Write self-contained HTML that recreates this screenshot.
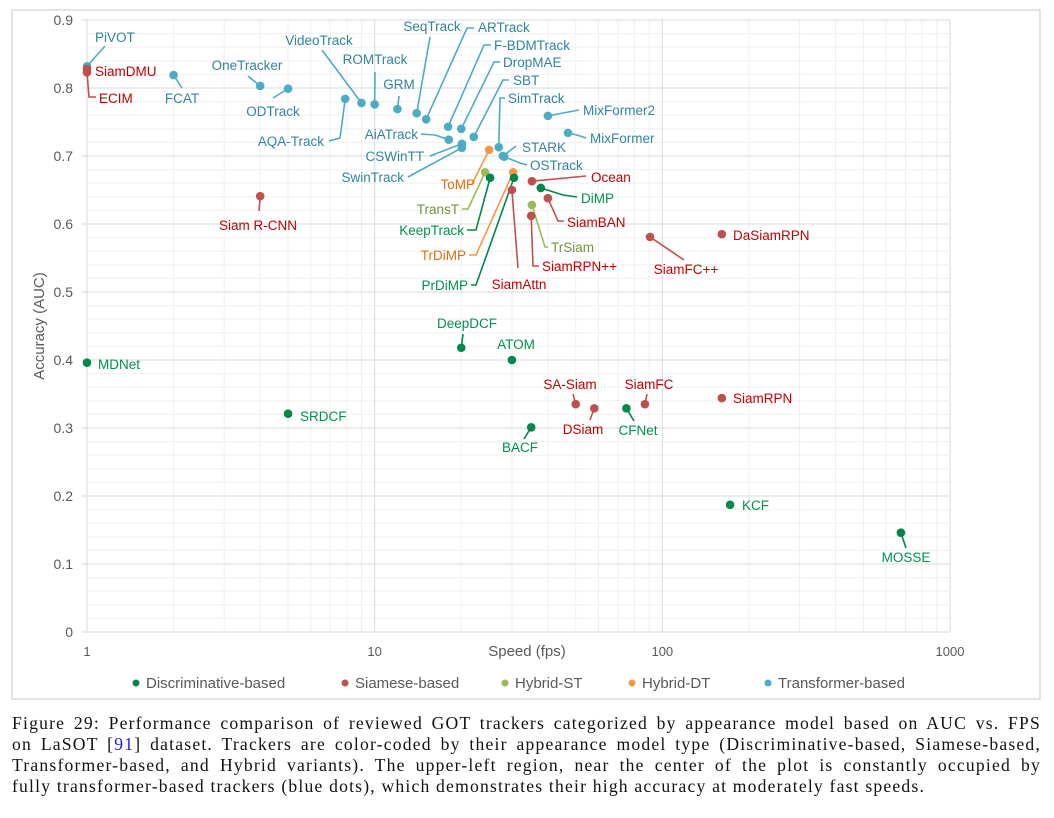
<!DOCTYPE html>
<html><head><meta charset="utf-8"><style>
body{margin:0;background:#fff;width:1054px;height:818px;overflow:hidden;font-family:"Liberation Sans",sans-serif}
#cap{position:absolute;left:12px;top:713px;width:1029px;font-family:"Liberation Serif",serif;font-size:17.6px;line-height:21px;color:#111;letter-spacing:1.2px}
#cap div{text-align:justify;text-align-last:justify;white-space:nowrap}
#cap div.last{text-align-last:left}
#cap a{color:#1a1aff;text-decoration:none}
</style></head><body>
<svg id="chart" width="1054" height="705" style="position:absolute;left:0;top:0" font-family="Liberation Sans, sans-serif">
<rect x="12" y="10" width="1028" height="689" fill="#fff" stroke="#d0d0d0" stroke-width="1.2"/>
<g id="grid"></g><g id="axes"></g><g id="leaders"></g><g id="pts"></g><g id="labels"></g><g id="legend"></g>
</svg>
<div id="cap">
<div>Figure 29: Performance comparison of reviewed GOT trackers categorized by appearance model based on AUC vs. FPS</div>
<div>on LaSOT [<a>91</a>] dataset. Trackers are color-coded by their appearance model type (Discriminative-based, Siamese-based,</div>
<div>Transformer-based, and Hybrid variants). The upper-left region, near the center of the plot is constantly occupied by</div>
<div class="last">fully transformer-based trackers (blue dots), which demonstrates their high accuracy at moderately fast speeds.</div>
</div>
<script>
const names=["PiVOT","SiamDMU","ECIM","FCAT","OneTracker","ODTrack","AQA-Track","VideoTrack","ROMTrack","GRM","SeqTrack","ARTrack","F-BDMTrack","DropMAE","AiATrack","SBT","CSWinTT","SwinTrack","SimTrack","STARK","OSTrack","MixFormer2","MixFormer","ToMP","TrDiMP","TransT","TrSiam","KeepTrack","PrDiMP","DiMP","Ocean","SiamAttn","SiamBAN","SiamRPN++","SiamFC++","DaSiamRPN","Siam R-CNN","MDNet","SRDCF","DeepDCF","ATOM","BACF","SA-Siam","DSiam","CFNet","SiamFC","SiamRPN","KCF","MOSSE"];
const fps=[1,1,1,2,4,5,7.9,9,10,12,14,15.1,18,20,18.1,22.1,20.1,20.1,27,27.9,28.2,40,47,25,30.3,24.2,35.2,25.2,30.5,37.8,35.2,30,40,35,90.6,161,4,1,5,20,30,35,50,58,75,87,161,172,675];
const auc=[0.832,0.828,0.823,0.819,0.803,0.799,0.784,0.778,0.776,0.769,0.763,0.754,0.743,0.740,0.724,0.728,0.718,0.712,0.713,0.700,0.699,0.759,0.734,0.709,0.676,0.676,0.628,0.668,0.668,0.653,0.663,0.650,0.638,0.612,0.581,0.585,0.641,0.396,0.321,0.418,0.400,0.301,0.335,0.329,0.329,0.335,0.344,0.187,0.146];
const types=["T","S","S","T","T","T","T","T","T","T","T","T","T","T","T","T","T","T","T","T","T","T","T","DT","DT","ST","ST","D","D","D","S","S","S","S","S","S","S","D","D","D","D","D","S","S","D","S","S","D","D"];
const yTicks=[0,0.1,0.2,0.3,0.4,0.5,0.6,0.7,0.8,0.9];
const xTicks=[1,10,100,1000];
const legendKeys=["D","S","ST","DT","T"];
const legendNames=["Discriminative-based","Siamese-based","Hybrid-ST","Hybrid-DT","Transformer-based"];
const lay={"PiVOT":[95,42,"start",105,46],"SiamDMU":[95,76,"start"],"ECIM":[99,103,"start",89,97,96,97],"FCAT":[182,103,"middle",182,88],"OneTracker":[247,70,"middle",248,76],"ODTrack":[273,116,"middle",273,98],"AQA-Track":[324,146,"end",340,138,329,141],"VideoTrack":[319,45,"middle",322,50],"ROMTrack":[375,64,"middle",375,72],"GRM":[399,89,"middle",399,96],"SeqTrack":[432,31,"middle",430,37],"ARTrack":[478,32,"start",467,28,474,28],"F-BDMTrack":[494,50,"start",484,45,491,45],"DropMAE":[503,67,"start",494,62,500,62],"AiATrack":[418,139,"end",435,135,421,134],"SBT":[513,85,"start",503,80,509,80],"CSWinTT":[424,161,"end",430,156],"SwinTrack":[404,182,"end",408,177],"SimTrack":[508,103,"start",500,98,505,98],"STARK":[522,152,"start",516,146],"OSTrack":[530,170,"start",520,163,527,165],"MixFormer2":[583,115,"start",579,110],"MixFormer":[590,143,"start",577,135,586,138],"ToMP":[475,189,"end",472,184],"TrDiMP":[466,260,"end",476,255,469,255],"TransT":[459,214,"end",468,209,462,209],"TrSiam":[551,252,"start",545,247,548,247],"KeepTrack":[464,235,"end",476,230,467,230],"PrDiMP":[468,290,"end",476,285,471,285],"DiMP":[581,203,"start",563,195,577,197],"Ocean":[591,182,"start",586,176],"SiamAttn":[519,289,"middle",518,268],"SiamBAN":[567,227,"start",558,221,564,221],"SiamRPN++":[542,271,"start",533,266,539,266],"SiamFC++":[686,274,"middle",684,260],"DaSiamRPN":[733,240,"start"],"Siam R-CNN":[258,230,"middle",259,211],"MDNet":[98,369,"start"],"SRDCF":[300,421,"start"],"DeepDCF":[467,328,"middle",463,334],"ATOM":[516,349,"middle"],"BACF":[520,452,"middle",524,439],"SA-Siam":[570,389,"middle",573,394],"DSiam":[583,434,"middle",590,420],"CFNet":[638,435,"middle",634,421],"SiamFC":[649,389,"middle",647,394],"SiamRPN":[733,403,"start"],"KCF":[742,510,"start"],"MOSSE":[906,562,"middle",906,548]};
const dotCol={D:"#00874A",S:"#C0504D",ST:"#9BBB59",DT:"#F79646",T:"#4BACC6"};
const txtCol={D:"#00914F",S:"#C00000",ST:"#76923C",DT:"#E36C09",T:"#31859C"};
const X0=87,X1=950,Y0=632,Y1=20;
const xs=v=>X0+Math.log10(v)/3*(X1-X0);
const ys=v=>Y0-v/0.9*(Y0-Y1);
const NS="http://www.w3.org/2000/svg";
function mk(tag,parent,attrs){const e=document.createElementNS(NS,tag);for(const k in attrs)e.setAttribute(k,attrs[k]);document.getElementById(parent).appendChild(e);return e;}
for(let d=0;d<3;d++)for(let m=2;m<10;m++){const v=Math.pow(10,d)*m;const g=mk("line","grid",{x1:xs(v),x2:xs(v),y1:Y1,y2:Y0,stroke:"#f0f0f0","stroke-width":1});

}
for(let i=0;i<45;i++){const v=i*0.02;const g=mk("line","grid",{x1:X0,x2:X1,y1:ys(v),y2:ys(v),stroke:"#f0f0f0","stroke-width":1});

}
xTicks.forEach(t=>{const g=mk("line","grid",{x1:xs(t),x2:xs(t),y1:Y1,y2:Y0,stroke:"#d9d9d9","stroke-width":1});


const l=mk("text","axes",{x:xs(t),y:656,"text-anchor":"middle","font-size":13,fill:"#595959"});l.textContent=t;

});
yTicks.forEach(t=>{const g=mk("line","grid",{x1:X0-5,x2:X1,y1:ys(t),y2:ys(t),stroke:"#d9d9d9","stroke-width":1});


const l=mk("text","axes",{x:73,y:ys(t)+5,"text-anchor":"end","font-size":14,fill:"#595959"});l.textContent=t;

});
let t=mk("text","axes",{x:527,y:656,"text-anchor":"middle","font-size":15,fill:"#595959"});t.textContent="Speed (fps)";


t=mk("text","axes",{x:0,y:0,transform:"translate(44,326) rotate(-90)","text-anchor":"middle","font-size":15,fill:"#595959"});t.textContent="Accuracy (AUC)";


names.forEach((n,i)=>{const px=xs(fps[i]),py=ys(auc[i]),ty=types[i];const L=lay[n];
if(L&&L.length>3){let pts=px+","+py;for(let k=3;k<L.length;k+=2)pts+=" "+L[k]+","+L[k+1];
const p=mk("polyline","leaders",{points:pts,fill:"none",stroke:dotCol[ty],"stroke-width":1.6});

}
const c=mk("circle","pts",{cx:px,cy:py,r:4.3,fill:dotCol[ty]});


if(L){const tx=mk("text","labels",{x:L[0],y:L[1],"text-anchor":L[2],"font-size":13.5,fill:txtCol[ty]});tx.textContent=n;

}});
const lx=[136,345,505,632,768];
legendKeys.forEach((k,i)=>{const c=mk("circle","legend",{cx:lx[i],cy:683,r:3.5,fill:dotCol[k]});


const tx=mk("text","legend",{x:lx[i]+10,y:688,"font-size":15,fill:"#595959"});tx.textContent=legendNames[i];

});
</script>
</body></html>
